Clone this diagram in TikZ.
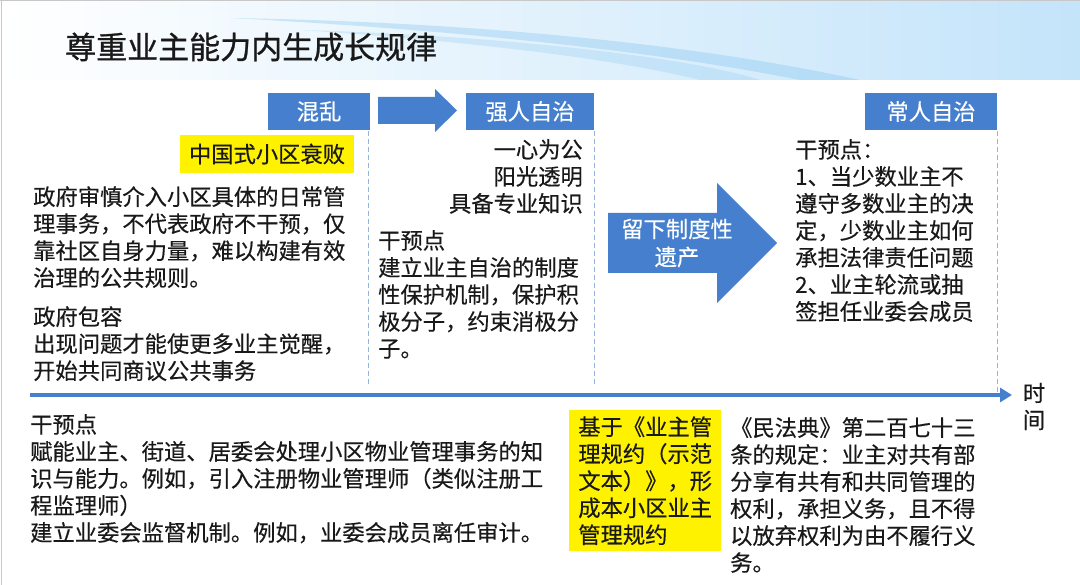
\documentclass[tikz,border=0pt]{standalone}
\usepackage{fontspec}
\newfontfamily\cjk[FakeBold=0.35]{Noto Sans CJK SC}
\newfontfamily\cjktitle[FakeBold=0.9]{Noto Sans CJK SC}
\usetikzlibrary{arrows.meta}
\definecolor{boxblue}{RGB}{70,127,205}
\definecolor{dashblue}{RGB}{150,180,225}
\definecolor{hdrblue}{RGB}{196,228,250}
\definecolor{swooshblue}{RGB}{130,195,240}
\definecolor{txt}{RGB}{25,25,25}
\definecolor{edgegray}{RGB}{200,200,200}
\tikzset{
  body/.style={font=\cjk\fontsize{22.3}{27}\selectfont, text=txt, inner sep=0pt, align=left},
  stagelabel/.style={fill=boxblue, text=white, font=\cjk\fontsize{22.3}{27}\selectfont, inner sep=0pt, minimum height=37pt},
  hilite/.style={fill=yellow, text=txt, font=\cjk\fontsize{22.3}{27}\selectfont, inner sep=0pt, align=left},
  divider/.style={dashblue, line width=1pt, dash pattern=on 5pt off 3pt},
  timeline/.style={boxblue, line width=4pt, -{Triangle[length=12pt,width=14pt]}},
  blockarrow/.style={fill=boxblue},
  arrowtext/.style={text=white, font=\cjk\fontsize{22.3}{28}\selectfont, inner sep=0pt, align=center}
}
\begin{document}
\begin{tikzpicture}[x=1pt,y=-1pt]
\useasboundingbox (0,0) rectangle (1080,585);
\fill[white] (0,0) rectangle (1080,585);
% header band
\shade[left color=white, right color=hdrblue] (0,0) rectangle (1080,80);
\fill[swooshblue, opacity=0.35] (230,18) .. controls (480,22) and (700,45) .. (860,80) -- (800,80) .. controls (660,52) and (460,30) .. (230,18) -- cycle;
\fill[swooshblue, opacity=0.25] (300,30) .. controls (520,36) and (700,60) .. (760,80) -- (700,80) .. controls (620,60) and (480,42) .. (300,30) -- cycle;
\draw[edgegray, line width=1pt] (1,0) -- (1,585);
\draw[edgegray, line width=1pt] (0,1) -- (1080,1);
\node[font=\cjktitle\fontsize{31}{36}\selectfont, text=txt, inner sep=0pt, anchor=west] (title) at (65,47) {尊重业主能力内生成长规律};

% stage labels
\node[stagelabel, minimum width=102pt] (chaos) at (319,111.5) {混乱};
\node[stagelabel, minimum width=128pt] (strong) at (530,111.5) {强人自治};
\node[stagelabel, minimum width=132pt] (ordinary) at (931,111.5) {常人自治};

% small block arrow
\fill[blockarrow] (378,97) -- (435,97) -- (435,89) -- (457,110.5) -- (435,132) -- (435,124) -- (378,124) -- cycle;

% dividers
\coordinate (d1t) at (368,131); \coordinate (d1b) at (368,386);
\coordinate (d2t) at (594,131); \coordinate (d2b) at (594,386);
\coordinate (d3t) at (997,131); \coordinate (d3b) at (997,392);
\draw[divider] (d1t) -- (d1b);
\draw[divider] (d2t) -- (d2b);
\draw[divider] (d3t) -- (d3b);

% left column
\node[hilite, minimum width=174pt, minimum height=38pt, align=center] (decline) at (267,154) {中国式小区衰败};
\node[body, anchor=north west] (leftbody) at (33,186) {政府审慎介入小区具体的日常管\\理事务，不代表政府不干预，仅\\靠社区自身力量，难以构建有效\\治理的公共规则。\\[12pt]政府包容\\出现问题才能使更多业主觉醒，\\开始共同商议公共事务};

% middle column
\node[body, anchor=north east, align=right] (virtues) at (583,139) {一心为公\\阳光透明\\具备专业知识};
\node[body, anchor=north west] (midbody) at (378,230) {干预点\\建立业主自治的制度\\性保护机制，保护积\\极分子，约束消极分\\子。};

% big block arrow
\fill[blockarrow] (608,213) -- (717,213) -- (717,183) -- (777,243) -- (717,303) -- (717,273) -- (608,273) -- cycle;
\node[arrowtext] (legacy) at (677,243) {留下制度性\\遗产};

% right column
\node[body, anchor=north west] (rightbody) at (795,139) {干预点：\\1、当少数业主不\\遵守多数业主的决\\定，少数业主如何\\承担法律责任问题\\2、业主轮流或抽\\签担任业委会成员};

% timeline
\coordinate (tl0) at (30,395);
\coordinate (tl1) at (1012,395);
\draw[timeline] (tl0) -- (tl1);
\node[body, align=center] (time) at (1034,406.5) {时\\间};

% bottom
\node[body, anchor=north west] (bottombody) at (30,414) {干预点\\赋能业主、街道、居委会处理小区物业管理事务的知\\识与能力。例如，引入注册物业管理师（类似注册工\\程监理师）\\建立业委会监督机制。例如，业委会成员离任审计。};
\node[hilite, anchor=north west, minimum width=152pt, minimum height=141pt] (covenant) at (569,410) {基于《业主管\\理规约（示范\\文本）》，形\\成本小区业主\\管理规约};
\node[body, anchor=north west] (civilcode) at (730,417) {《民法典》第二百七十三\\条的规定：业主对共有部\\分享有共有和共同管理的\\权利，承担义务，且不得\\以放弃权利为由不履行义\\务。};
\end{tikzpicture}
\end{document}
